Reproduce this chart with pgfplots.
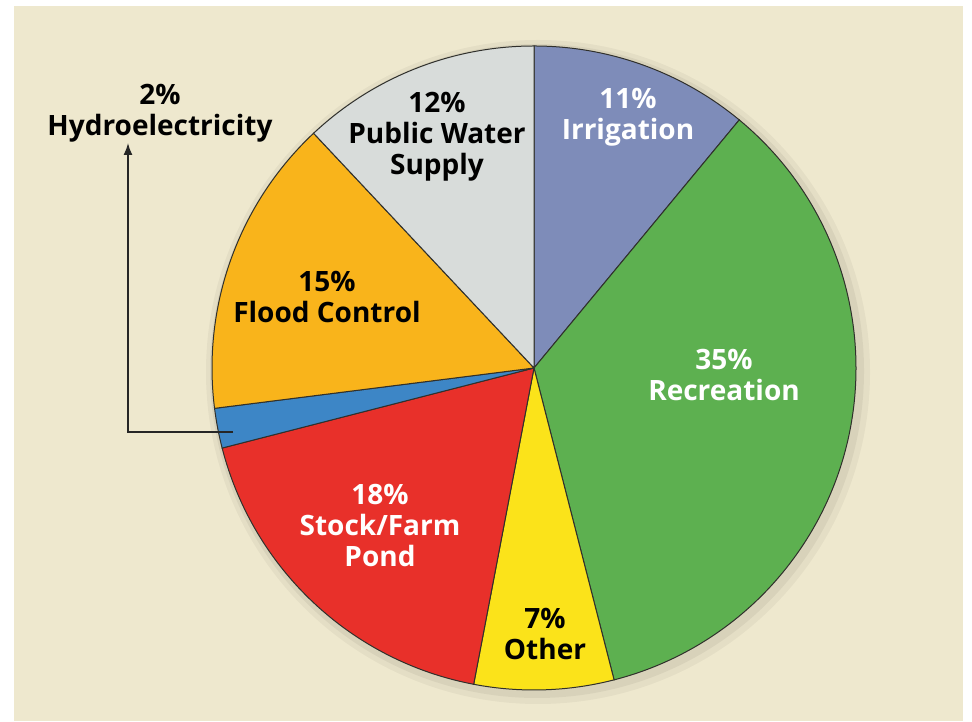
\documentclass[border=0pt]{standalone}
\usepackage{fontspec}
\setmainfont{Open Sans}
\usepackage{pgfplots}
\pgfplotsset{compat=1.18}
\usetikzlibrary{arrows.meta}
\definecolor{bgbeige}{HTML}{EEE8CE}
\definecolor{cirrig}{HTML}{7E8CB9}
\definecolor{cpublic}{HTML}{D8DCDA}
\definecolor{cflood}{HTML}{F9B41B}
\definecolor{chydro}{HTML}{3D86C6}
\definecolor{cstock}{HTML}{E8302A}
\definecolor{cother}{HTML}{FBE31A}
\definecolor{crecr}{HTML}{5DB050}
\definecolor{edge}{HTML}{30302C}
\tikzset{lbl/.style={font=\fontsize{14}{15.5}\selectfont\bfseries, align=center, inner sep=0pt}}
\begin{document}
\begin{tikzpicture}
\begin{axis}[x=0.5pt, y=0.5pt, xmin=0, xmax=972, ymin=0, ymax=721,
  hide axis, clip=false, scale only axis]
% background
\fill[white] (axis cs:0,0) rectangle (axis cs:972,721);
\fill[bgbeige] (axis cs:14,0) rectangle (axis cs:963,715);
% soft shadow
\addplot[draw=none, fill=black, fill opacity=0.04, mark=none] coordinates {(538,349)} circle[radius=166pt];
\addplot[draw=none, fill=black, fill opacity=0.05, mark=none] coordinates {(537,350)} circle[radius=163.5pt];
% slices: percentages clockwise from 12 o'clock (11, 35, 7, 18, 2, 15, 12)
\addplot[fill=cirrig, draw=edge, line width=0.5pt, mark=none] coordinates {(534,353)}
  -- ++({90}:161pt) arc[start angle={90}, delta angle={-3.6*11}, radius=161pt] -- cycle;
\addplot[fill=crecr, draw=edge, line width=0.5pt, mark=none] coordinates {(534,353)}
  -- ++({90-3.6*11}:161pt) arc[start angle={90-3.6*11}, delta angle={-3.6*35}, radius=161pt] -- cycle;
\addplot[fill=cother, draw=edge, line width=0.5pt, mark=none] coordinates {(534,353)}
  -- ++({90-3.6*46}:161pt) arc[start angle={90-3.6*46}, delta angle={-3.6*7}, radius=161pt] -- cycle;
\addplot[fill=cstock, draw=edge, line width=0.5pt, mark=none] coordinates {(534,353)}
  -- ++({90-3.6*53}:161pt) arc[start angle={90-3.6*53}, delta angle={-3.6*18}, radius=161pt] -- cycle;
\addplot[fill=chydro, draw=edge, line width=0.5pt, mark=none] coordinates {(534,353)}
  -- ++({90-3.6*71}:161pt) arc[start angle={90-3.6*71}, delta angle={-3.6*2}, radius=161pt] -- cycle;
\addplot[fill=cflood, draw=edge, line width=0.5pt, mark=none] coordinates {(534,353)}
  -- ++({90-3.6*73}:161pt) arc[start angle={90-3.6*73}, delta angle={-3.6*15}, radius=161pt] -- cycle;
\addplot[fill=cpublic, draw=edge, line width=0.5pt, mark=none] coordinates {(534,353)}
  -- ++({90-3.6*88}:161pt) arc[start angle={90-3.6*88}, delta angle={-3.6*12}, radius=161pt] -- cycle;
% leader arrow for hydroelectricity
\draw[line width=0.8pt, color=black!85, -{Latex[length=6pt,width=4.5pt]}]
  (axis cs:233,289) -- (axis cs:128,289) -- (axis cs:128,578);
% labels
\node[lbl, text=black] at (axis cs:160,608) {2\%\\Hydroelectricity};
\node[lbl, text=black] at (axis cs:437,584) {12\%\\Public Water\\Supply};
\node[lbl, text=white] at (axis cs:628,604) {11\%\\Irrigation};
\node[lbl, text=black] at (axis cs:327,424) {15\%\\Flood Control};
\node[lbl, text=white] at (axis cs:724,346) {35\%\\Recreation};
\node[lbl, text=white] at (axis cs:380,195) {18\%\\Stock/Farm\\Pond};
\node[lbl, text=black] at (axis cs:545,87) {7\%\\Other};
\end{axis}
\end{tikzpicture}
\end{document}
